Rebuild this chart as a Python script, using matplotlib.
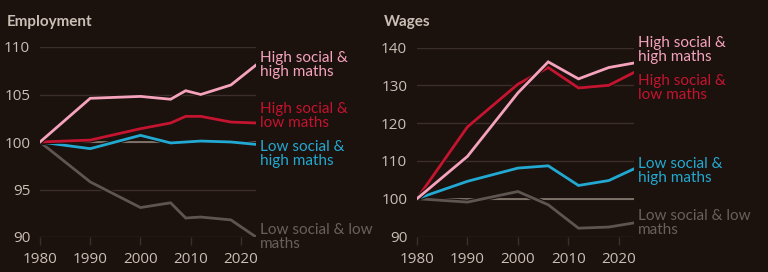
import matplotlib
matplotlib.use('Agg')
import matplotlib.pyplot as plt
import matplotlib.patheffects as pe

plt.rcParams['font.family'] = ['Lato', 'DejaVu Sans']

# Employment index (1980 = 100)
emp_years = [1980, 1990, 2000, 2006, 2009, 2012, 2018, 2023]
emp_hs_hm = [100, 104.6, 104.8, 104.5, 105.4, 105.0, 106.0, 108.1]
emp_hs_lm = [100, 100.2, 101.4, 102.0, 102.7, 102.7, 102.1, 102.0]
emp_ls_hm = [100, 99.3, 100.7, 99.9, 100.0, 100.1, 100.0, 99.75]
emp_ls_lm = [100, 95.8, 93.1, 93.6, 92.0, 92.1, 91.8, 90.0]

# Wages index (1980 = 100)
wage_years = [1980, 1990, 2000, 2006, 2012, 2018, 2023]
wage_hs_hm = [100, 111.2, 128.0, 136.2, 131.7, 134.7, 135.9]
wage_hs_lm = [100, 119.0, 130.3, 134.7, 129.3, 130.0, 133.4]
wage_ls_hm = [100, 104.6, 108.1, 108.7, 103.5, 104.8, 107.9]
wage_ls_lm = [100, 99.1, 101.9, 98.4, 92.2, 92.5, 93.6]

labels = ['High social &\nhigh maths', 'High social &\nlow maths',
          'Low social &\nhigh maths', 'Low social & low\nmaths']
colors = ['#f5a3bd', '#c4142f', '#22a9d2', '#5f5550']

bg = '#1b110d'
grid_c = '#3a2f29'
text_c = '#c9bfb5'

fig = plt.figure(figsize=(7.68, 2.72), dpi=100, facecolor=bg)

def panel(rect, title, years, series, yticks, label_y):
    ax = fig.add_axes(rect)
    ax.set_facecolor(bg)
    ax.set_xlim(1980, 2023)
    ax.set_ylim(yticks[0], yticks[-1])
    for v in yticks:
        ax.axhline(v, color=grid_c, lw=1.0, zorder=1)
    ax.plot([1980, 2023], [100, 100], color='#8a7f76', lw=1.2, zorder=2)
    # draw order: grey, blue, red, pink on top
    for i in [3, 2, 1, 0]:
        ax.plot(years, series[i], color=colors[i], lw=2.0, zorder=3 + (3 - i),
                solid_joinstyle='miter',
                path_effects=[pe.Stroke(linewidth=3.6, foreground=bg), pe.Normal()])
    for i in range(4):
        ax.text(1.02, label_y[i], labels[i], transform=ax.transAxes,
                color=colors[i] if i != 3 else '#6a605a', fontsize=11,
                va='center', ha='left', linespacing=0.98, clip_on=False)
    for s in ax.spines.values():
        s.set_visible(False)
    ax.set_yticks(yticks)
    ax.set_yticklabels([str(v) for v in yticks], family='Open Sans')
    ax.set_xticks([1980, 1990, 2000, 2010, 2020])
    ax.set_xticklabels(['1980', '1990', '2000', '2010', '2020'], family='Open Sans')
    ax.tick_params(axis='y', length=0, pad=7, colors=text_c, labelsize=11)
    ax.tick_params(axis='x', length=6, width=1, direction='out', pad=5,
                   colors=grid_c, labelcolor=text_c, labelsize=11)
    fig.text(rect[0] - 33 / 768, 1 - 22 / 272, title, color=text_c,
             fontsize=11, fontweight='bold', va='center', ha='left')
    return ax

h = 190 / 272
b = 35 / 272
panel([40 / 768, b, 216 / 768, h], 'Employment', emp_years,
      [emp_hs_hm, emp_hs_lm, emp_ls_hm, emp_ls_lm],
      [90, 95, 100, 105, 110], [0.905, 0.635, 0.435, 0.0])

panel([417 / 768, 35.5 / 272, 217 / 768, 189 / 272], 'Wages', wage_years,
      [wage_hs_hm, wage_hs_lm, wage_ls_hm, wage_ls_lm],
      [90, 100, 110, 120, 130, 140], [0.985, 0.785, 0.345, 0.07])

fig.savefig('out.png', dpi=100, facecolor=bg)
